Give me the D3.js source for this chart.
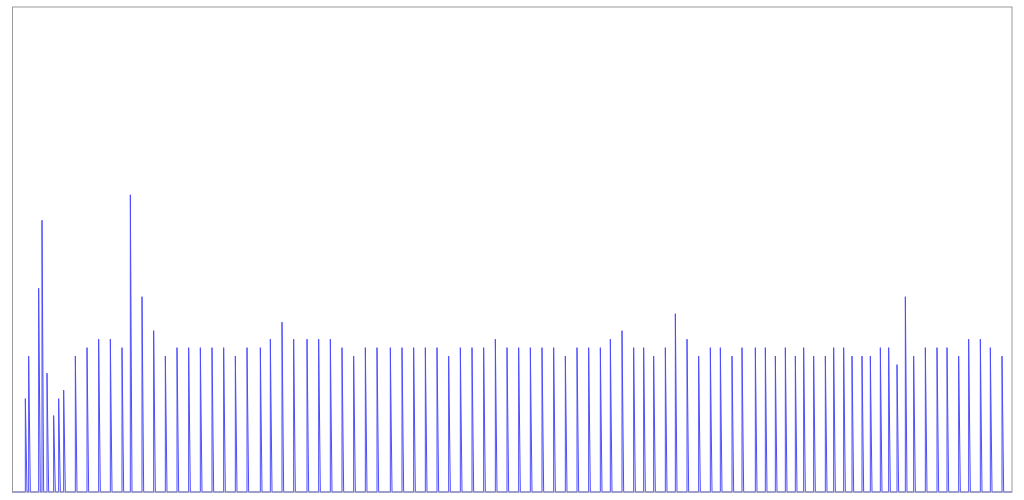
<!DOCTYPE html>
<html>
<head>
<meta charset="utf-8">
<script src="https://cdn.jsdelivr.net/npm/d3@7"></script>
<style>
  html, body { margin: 0; padding: 0; background: #fff; }
  svg { display: block; }
</style>
</head>
<body>
<svg id="chart" width="1024" height="500"></svg>
<script>
// Day index of each spike (x domain 0..600 days)
const spikeDays = [
  8, 10, 16, 18, 21, 25, 28, 31, 38, 45, 52, 59, 66, 71, 78, 85, 92, 99,
  106, 113, 120, 127, 134, 141, 149, 155, 162, 169, 177, 184, 191,
  198, 205, 212, 219, 227, 234, 241, 248, 255, 262, 269, 276, 283, 290, 297,
  304, 311, 318, 325, 332, 339, 346, 353, 359, 366, 373, 379, 385, 392, 398,
  405, 412, 419, 425, 432, 438, 446, 452, 458, 464, 470, 475, 481, 488, 493, 499,
  504, 510, 515, 521, 526, 531, 536, 541, 548, 555, 561, 568, 574, 581, 587, 594
];
// Value of each spike
const spikeValues = [
  11, 16, 24, 32, 14, 9, 11, 12, 16, 17, 18, 18, 17, 35, 23, 19, 16, 17,
  17, 17, 17, 17, 16, 17, 17, 18, 20, 18, 18, 18, 18,
  17, 16, 17, 17, 17, 17, 17, 17, 17, 16, 17, 17, 17, 18, 17,
  17, 17, 17, 17, 16, 17, 17, 17, 18, 19, 17, 17, 16, 17, 21,
  18, 16, 17, 17, 16, 17, 17, 17, 16, 17, 16, 17, 16, 16, 17, 17,
  16, 16, 16, 17, 17, 15, 23, 16, 17, 17, 17, 16, 18, 18, 17, 16
];
const xDomain = [0, 600];
const yDomain = [0, 57];

(function () {
  const svg = d3.select("#chart");
  const mLeft = 12, mRight = 1012, mTop = 8, mBottom = 492;

  const x = d3.scaleLinear().domain(xDomain).range([mLeft, mRight]);
  const y = d3.scaleLinear().domain(yDomain).range([mBottom, mTop]);

  // Series: zero baseline, each spike rises at its day and returns to zero the next day
  const points = [[xDomain[0], 0]];
  spikeDays.forEach((d, i) => {
    points.push([d, 0]);
    points.push([d, spikeValues[i]]);
    points.push([d + 1, 0]);
  });
  points.push([xDomain[1], 0]);

  const line = d3.line().x(p => x(p[0])).y(p => y(p[1]));

  svg.append("path")
    .datum(points)
    .attr("fill", "none")
    .attr("stroke", "#4d4dff")
    .attr("stroke-width", 1)
    .attr("d", line);

  // frame
  svg.append("rect")
    .attr("x", mLeft + 0.5)
    .attr("y", mTop - 1)
    .attr("width", mRight - mLeft - 0.5)
    .attr("height", mBottom - mTop + 1)
    .attr("fill", "none")
    .attr("stroke", "#999")
    .attr("stroke-width", 1);
})();
</script>
</body>
</html>
